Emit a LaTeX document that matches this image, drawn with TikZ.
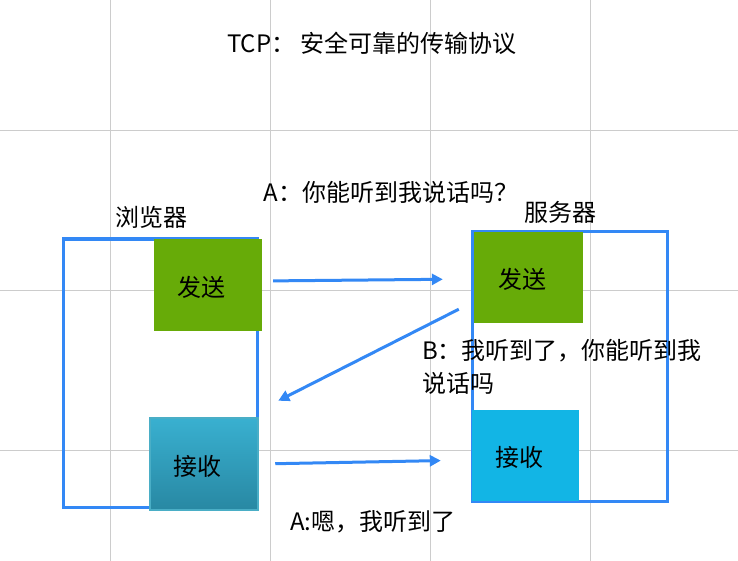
\documentclass[tikz,border=0pt]{standalone}
\usepackage{fontspec}
\setmainfont{Noto Sans CJK SC}
\usetikzlibrary{arrows.meta}
\definecolor{frameblue}{RGB}{51,136,245}
\definecolor{sendgreen}{RGB}{103,171,8}
\definecolor{recvcyan}{RGB}{18,181,229}
\definecolor{tealtop}{RGB}{57,176,208}
\definecolor{tealbot}{RGB}{40,136,163}
\definecolor{tealedge}{RGB}{74,174,198}
\definecolor{gridgray}{RGB}{204,204,204}

\begin{document}
\begin{tikzpicture}[x=1pt, y=-1pt,
	every node/.style={font=\fontsize{24}{33}\selectfont, inner sep=0pt},
	frame/.style={draw=frameblue, line width=3pt},
	box/.style={rectangle, minimum width=108pt, minimum height=92pt, label={[xshift=-6.5pt, yshift=-2pt]center:#1}},
	msg/.style={draw=frameblue, line width=3pt, -{Triangle[length=11pt,width=11pt]}}]
				\fill[white] (0,0) rectangle (738,561);
				\useasboundingbox (0,0) rectangle (738,561);
				\foreach \gx in {110,270,430,590} \draw[gridgray, line width=0.8pt] (\gx,0) -- (\gx,561);
				\foreach \gy in {130,290,450} \draw[gridgray, line width=0.8pt] (0,\gy) -- (738,\gy);
				
				\node (title) at (372,43) {TCP： 安全可靠的传输协议};
				\node (blabel) at (151,217) {浏览器};
				\node (slabel) at (560,212) {服务器};
				
				\node[frame, minimum width=194pt, minimum height=268pt] (browser) at (160,373) {};
				\node[frame, minimum width=195pt, minimum height=269pt] (server) at (569.5,366.5) {};
				
				\node[box=发送, fill=sendgreen] (bsend) at (208,285) {};
				\node[box=接收, draw=tealedge, line width=2.5pt, top color=tealtop, bottom color=tealbot] (brecv) at (204,464) {};
				\node[box=发送, fill=sendgreen, minimum width=109pt, minimum height=91pt] (ssend) at (528.5,277.5) {};
				\node[box=接收, fill=recvcyan, minimum width=107pt, minimum height=91pt] (srecv) at (525.5,455.5) {};
				
				\node (ask) at (391,192) {A：你能听到我说话吗？};
				\node[align=left, anchor=west] (reply) at (422,367) {B：我听到了，你能听到我\\说话吗};
				\node (ack) at (373,522) {A:嗯，我听到了};
				
				\path ([yshift=4pt]bsend.east) edge[msg, shorten <=11pt, shorten >=31pt] ([yshift=-1.5pt]ssend.west);
				\path ([xshift=-15pt,yshift=14pt]ssend.south west) edge[msg] ([xshift=19pt,yshift=16pt]brecv.north east);
				\path (brecv.east) edge[msg, shorten <=16pt, shorten >=31pt] ([yshift=-4.5pt]srecv.west);
				\end{tikzpicture}
\end{document}
